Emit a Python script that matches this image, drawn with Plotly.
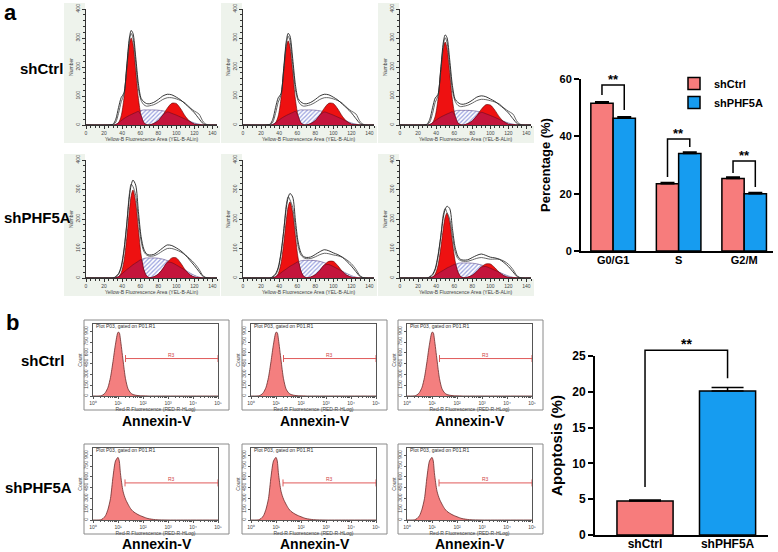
import numpy as np
import plotly.graph_objects as go

W, H = 778, 552
FONT = "Liberation Sans, Arial, sans-serif"

# ---------------- data: panel a, cell-cycle DNA histograms ----------------
HIST_X = [0, 25, 30, 33, 36, 39, 42, 45, 48, 50, 52, 55, 58, 61, 64, 67, 70,
          75, 80, 85, 90, 95, 100, 105, 110, 115, 120, 125, 130, 135, 145]
CTRL_G1 = [0, 0, 0, 1, 8, 32, 92, 189, 279, 300, 279, 189, 92, 32, 8, 1, 0,
           0, 0, 0, 0, 0, 0, 0, 0, 0, 0, 0, 0, 0, 0]
CTRL_S = [0, 0, 0, 2, 8, 15, 22, 28, 33, 36, 39, 43, 47, 50, 52, 52, 52,
          52, 51, 49, 45, 40, 34, 27, 20, 13, 7, 3, 0, 0, 0]
CTRL_G2 = [0, 0, 0, 0, 0, 0, 0, 0, 0, 0, 0, 0, 0, 0, 0, 0, 0,
           5, 15, 34, 58, 75, 74, 55, 30, 12, 3, 1, 0, 0, 0]
CTRL_OUT_A = [0, 0, 3, 20, 60, 95, 110, 200, 300, 326, 316, 235, 142, 92, 80, 74, 73,
              78, 88, 100, 106, 104, 96, 86, 72, 58, 42, 22, 4, 0, 0]
CTRL_OUT_B = [0, 0, 1, 10, 40, 80, 105, 195, 290, 316, 300, 215, 125, 85, 70, 65, 66,
              70, 78, 88, 94, 94, 90, 84, 75, 60, 48, 38, 10, 0, 0]
CTRL_G1_K = [1.0, 0.967, 0.953]
CTRL_S_K = [1.0, 1.0, 0.97]
CTRL_G2_K = [1.0, 1.0, 0.93]

PHF_G1 = [0, 0, 0, 1, 4, 18, 57, 133, 229, 279, 298, 257, 165, 78, 28, 7, 1,
          0, 0, 0, 0, 0, 0, 0, 0, 0, 0, 0, 0, 0, 0]
PHF_S = [0, 0, 0, 1, 5, 12, 20, 28, 35, 40, 45, 51, 57, 62, 66, 68, 68,
         68, 67, 64, 59, 52, 44, 35, 26, 17, 9, 3, 0, 0, 0]
PHF_G2 = [0, 0, 0, 0, 0, 0, 0, 0, 0, 0, 0, 0, 0, 0, 0, 0, 0,
          4, 13, 31, 53, 68, 68, 50, 27, 11, 3, 1, 0, 0, 0]
PHF_OUT_A = [0, 0, 0, 5, 15, 40, 95, 180, 275, 315, 332, 315, 225, 140, 98, 82, 78,
             80, 90, 102, 112, 110, 102, 92, 78, 60, 42, 22, 4, 0, 0]
PHF_OUT_B = [0, 0, 0, 4, 12, 35, 90, 178, 285, 318, 310, 280, 200, 125, 90, 78, 74,
             75, 82, 92, 100, 100, 95, 88, 78, 65, 50, 30, 6, 0, 0]
PHF_G1_K = [1.0, 0.866, 0.74]
PHF_S_K = [1.0, 0.88, 0.75]
PHF_G2_K = [1.0, 0.83, 0.70]

HIST_XTICKS = [0, 20, 40, 60, 80, 100, 120, 140]
HIST_YTICKS = [0, 100, 200, 300, 400]

# ---------------- data: panel b, Annexin-V histograms ----------------
ANX_X = [0.0, 0.2, 0.3, 0.4, 0.5, 0.6, 0.7, 0.8, 0.9, 1.0, 1.05, 1.1, 1.2, 1.3,
         1.4, 1.5, 1.6, 1.8, 2.0, 2.2, 2.5, 3.0, 4.0, 5.0]
ANX_CTRL = [0, 0, 2, 15, 50, 120, 260, 480, 720, 885, 880, 780, 500, 240,
            100, 45, 20, 6, 2, 0, 0, 0, 0, 0]
ANX_PHF = [0, 0, 2, 20, 60, 150, 300, 600, 820, 870, 820, 640, 400, 290,
           220, 160, 120, 75, 45, 20, 5, 0, 0, 0]
R3_Y = [520, 515]
R3_X0 = [1.3, 1.28]
R3_X1 = 5.0
ANX_YTICKS = [0, 150, 300, 450, 600, 750, 900]
ANX_XTICKS = [0, 1, 2, 3, 4, 5]
ANX_XTICKTEXT = ["10⁰", "10¹", "10²", "10³", "10⁴", "10⁵"]

# ---------------- data: bar charts ----------------
PHASES = ["G0/G1", "S", "G2/M"]
CTRL_PCT = [51.5, 23.5, 25.3]
CTRL_PCT_ERR = [0.6, 0.4, 0.5]
PHF_PCT = [46.3, 34.0, 20.0]
PHF_PCT_ERR = [0.5, 0.5, 0.4]
SIG_A_LEFT = [54.4, 25.8, 27.2]
SIG_A_TOP = [57.9, 39.1, 31.4]
SIG_A_RIGHT = [49.2, 36.3, 22.3]
PCT_TICKS = [0, 20, 40, 60]

GROUPS = ["shCtrl", "shPHF5A"]
APOP = [4.75, 20.1]
APOP_ERR = [0.15, 0.5]
SIG_B = [6.7, 25.8, 25.8, 21.9]
APOP_TICKS = [0, 5, 10, 15, 20, 25]

PINK = "#f77c7c"
BLUE = "#169cf0"
RED = "#ee1111"
CRIMSON = "#c4143c"

# ---------------- helpers ----------------
def xd(l, r):
    return [l / W, r / W]


def yd(t, b):
    return [1 - b / H, 1 - t / H]


def px(p):
    return p / W


def py(p):
    return 1 - p / H


fig = go.Figure()
layout = {}
shapes = []
annotations = []


def refs(n):
    return ("x" if n == 1 else f"x{n}"), ("y" if n == 1 else f"y{n}")


def set_axes(n, xcfg, ycfg):
    xr, yr = refs(n)
    xcfg = dict(xcfg, anchor=yr, fixedrange=True, showgrid=False, zeroline=False, automargin=False)
    ycfg = dict(ycfg, anchor=xr, fixedrange=True, showgrid=False, zeroline=False, automargin=False)
    layout["xaxis" if n == 1 else f"xaxis{n}"] = xcfg
    layout["yaxis" if n == 1 else f"yaxis{n}"] = ycfg


def text(x, y, s, size, bold=False, color="black", xanchor="center", yanchor="middle", angle=0):
    annotations.append(dict(
        xref="paper", yref="paper", x=px(x), y=py(y), text=s, showarrow=False,
        xanchor=xanchor, yanchor=yanchor, textangle=angle,
        font=dict(family=FONT, size=size, color=color, weight="bold" if bold else "normal")))


# ---------------- panel a histograms ----------------
A_COLS = [86, 243, 400]
A_W = 131
A_ROWS = [(9, 125), (160, 278)]
rows_a = [
    (CTRL_G1, CTRL_S, CTRL_G2, CTRL_OUT_A, CTRL_OUT_B, CTRL_G1_K, CTRL_S_K, CTRL_G2_K),
    (PHF_G1, PHF_S, PHF_G2, PHF_OUT_A, PHF_OUT_B, PHF_G1_K, PHF_S_K, PHF_G2_K),
]
n = 0
for r, (top, bot) in enumerate(A_ROWS):
    g1, s, g2, oa, ob, k1, ks, k2 = [np.array(v, dtype=float) for v in rows_a[r]]
    for c, left in enumerate(A_COLS):
        n += 1
        xr, yr = refs(n)
        G1 = g1 * k1[c]
        S = s * ks[c]
        G2 = g2 * k2[c]
        OA = oa + (k1[c] - 1) * g1 + (ks[c] - 1) * s + (k2[c] - 1) * g2
        OB = ob + (k1[c] - 1) * g1 + (ks[c] - 1) * s + (k2[c] - 1) * g2
        OV = np.minimum(S, G1 + G2)
        common = dict(x=HIST_X, xaxis=xr, yaxis=yr, mode="lines", showlegend=False,
                      hoverinfo="skip")
        fig.add_trace(go.Scatter(y=S, fill="tozeroy", fillcolor="white",
                                 fillpattern=dict(shape="/", fgcolor="#3444c0", bgcolor="white",
                                                  size=3, solidity=0.4),
                                 line=dict(color="#5a4a8a", width=0.6, shape="spline", smoothing=0.8),
                                 **common))
        fig.add_trace(go.Scatter(y=G1, fill="tozeroy", fillcolor=RED,
                                 line=dict(color="#5a0000", width=0.6, shape="spline", smoothing=0.8),
                                 **common))
        fig.add_trace(go.Scatter(y=G2, fill="tozeroy", fillcolor=RED,
                                 line=dict(color="#5a0000", width=0.6, shape="spline", smoothing=0.8),
                                 **common))
        fig.add_trace(go.Scatter(y=OV, fill="tozeroy", fillcolor=CRIMSON,
                                 line=dict(color="#6a0a20", width=0.6, shape="spline", smoothing=0.8),
                                 **common))
        fig.add_trace(go.Scatter(y=OB, line=dict(color="#555555", width=0.9, shape="spline", smoothing=0.8),
                                 **common))
        fig.add_trace(go.Scatter(y=OA, line=dict(color="#222222", width=0.9, shape="spline", smoothing=0.8),
                                 **common))
        tf = dict(family=FONT, size=5, color="#444")
        set_axes(n,
                 dict(domain=xd(left, left + A_W), range=[0, 145], showline=True, linecolor="#333",
                      linewidth=1, ticks="outside", ticklen=3, tickwidth=0.8, tickcolor="#333",
                      tickvals=HIST_XTICKS, tickfont=tf,
                      minor=dict(tickvals=list(range(0, 146, 5)), ticks="outside", ticklen=2,
                                 tickcolor="#333", tickwidth=0.6),
                      title=dict(text="Yellow-B Fluorescence Area (YEL-B-ALin)", font=tf, standoff=1)),
                 dict(domain=yd(top, bot), range=[0, 400], showline=True, linecolor="#333",
                      linewidth=1, ticks="outside", ticklen=3, tickwidth=0.8, tickcolor="#333",
                      tickvals=HIST_YTICKS, tickfont=tf, tickangle=-90,
                      minor=dict(tickvals=list(range(0, 401, 20)), ticks="outside", ticklen=2,
                                 tickcolor="#333", tickwidth=0.6),
                      title=dict(text="Number", font=tf, standoff=1)))
        # light tinted frame of the exported cytometer image
        shapes.append(dict(type="rect", xref="paper", yref="paper", layer="below",
                           x0=px(left - 22), x1=px(left - 1), y0=py(bot + 18), y1=py(top - 6),
                           fillcolor="#eef3ec", line=dict(width=0)))
        shapes.append(dict(type="rect", xref="paper", yref="paper", layer="below",
                           x0=px(left - 1), x1=px(left + A_W + 3), y0=py(bot + 18), y1=py(bot + 1),
                           fillcolor="#eef3ec", line=dict(width=0)))

# ---------------- panel b histograms ----------------
B_COLS = [84, 242, 398]
B_BOX_W = 145
B_TOPS = [320, 444]
B_LABEL_DY = [101, 100]
anx_rows = [ANX_CTRL, ANX_PHF]
minor_log = [k + np.log10(m) for k in range(5) for m in range(2, 10)]
for r, top in enumerate(B_TOPS):
    for c, left in enumerate(B_COLS):
        n += 1
        xr, yr = refs(n)
        fig.add_trace(go.Scatter(x=ANX_X, y=anx_rows[r], xaxis=xr, yaxis=yr, mode="lines",
                                 fill="tozeroy", fillcolor="#f47f7f",
                                 line=dict(color="#6a2a2a", width=0.8, shape="spline", smoothing=0.7),
                                 showlegend=False, hoverinfo="skip"))
        fig.add_trace(go.Scatter(x=[R3_X0[r], R3_X1], y=[R3_Y[r], R3_Y[r]], xaxis=xr, yaxis=yr,
                                 mode="lines+markers", line=dict(color="#e05a5a", width=1),
                                 marker=dict(symbol="line-ns", size=5,
                                             line=dict(color="#e05a5a", width=1)),
                                 showlegend=False, hoverinfo="skip", cliponaxis=False))
        annotations.append(dict(xref=xr, yref=yr, x=(R3_X0[r] + R3_X1) / 2, y=R3_Y[r], text="R3",
                                showarrow=False, yanchor="bottom", yshift=-1,
                                font=dict(family=FONT, size=5, color="#d04040")))
        tf = dict(family=FONT, size=5, color="#444")
        set_axes(n,
                 dict(domain=xd(left + 9, left + 134), range=[0, 5], showline=True, mirror=True,
                      linecolor="#555", linewidth=0.8, ticks="outside", ticklen=2, tickwidth=0.6,
                      tickcolor="#555", tickvals=ANX_XTICKS, ticktext=ANX_XTICKTEXT, tickfont=tf,
                      minor=dict(tickvals=minor_log, ticks="outside", ticklen=1,
                                 tickcolor="#555", tickwidth=0.5),
                      title=dict(text="Red-R Fluorescence (RED-R-HLog)", font=tf, standoff=0)),
                 dict(domain=yd(top + 4, top + 76), range=[0, 1000], showline=True, mirror=True,
                      linecolor="#555", linewidth=0.8, ticks="outside", ticklen=2, tickwidth=0.6,
                      tickcolor="#555", tickvals=ANX_YTICKS, tickfont=tf, tickangle=-90,
                      title=dict(text="Count", font=tf, standoff=0)))
        shapes.append(dict(type="rect", xref="paper", yref="paper",
                           x0=px(left), x1=px(left + B_BOX_W), y0=py(top + 90), y1=py(top),
                           line=dict(color="#8a8a8a", width=1)))
        annotations.append(dict(xref="paper", yref="paper", x=px(left + 10), y=py(top + 0.5),
                                text="Plot P03, gated on P01.R1", showarrow=False,
                                xanchor="left", yanchor="top",
                                font=dict(family=FONT, size=5, color="#333")))
        text(left + B_BOX_W / 2, top + B_LABEL_DY[r], "Annexin-V", 14, bold=True)

# ---------------- bar chart a ----------------
n += 1
na = n
xr, yr = refs(na)
fig.add_trace(go.Bar(x=[0, 1, 2], y=CTRL_PCT, width=0.34, offset=-0.34, name="shCtrl",
                     xaxis=xr, yaxis=yr, marker=dict(color=PINK, line=dict(color="black", width=1.5)),
                     error_y=dict(type="data", array=CTRL_PCT_ERR, arrayminus=[0, 0, 0],
                                  color="black", thickness=1.5, width=7),
                     hoverinfo="skip"))
fig.add_trace(go.Bar(x=[0, 1, 2], y=PHF_PCT, width=0.34, offset=0, name="shPHF5A",
                     xaxis=xr, yaxis=yr, marker=dict(color=BLUE, line=dict(color="black", width=1.5)),
                     error_y=dict(type="data", array=PHF_PCT_ERR, arrayminus=[0, 0, 0],
                                  color="black", thickness=1.5, width=7),
                     hoverinfo="skip"))
bx, by = [], []
for i in range(3):
    bx += [i - 0.17, i - 0.17, i + 0.17, i + 0.17, None]
    by += [SIG_A_LEFT[i], SIG_A_TOP[i], SIG_A_TOP[i], SIG_A_RIGHT[i], None]
    annotations.append(dict(xref=xr, yref=yr, x=i, y=SIG_A_TOP[i], text="<b>**</b>", showarrow=False,
                            yanchor="bottom", yshift=-4,
                            font=dict(family=FONT, size=13, color="black")))
fig.add_trace(go.Scatter(x=bx, y=by, xaxis=xr, yaxis=yr, mode="lines",
                         line=dict(color="black", width=1.5), showlegend=False, hoverinfo="skip"))
bold11 = dict(family=FONT, size=11, color="black", weight="bold")
set_axes(na,
         dict(domain=xd(581, 773), range=[-0.49, 2.44], showline=True, linecolor="black", linewidth=2,
              ticks="", tickvals=[0, 1, 2], ticktext=PHASES, tickfont=bold11, ticklabelstandoff=-2),
         dict(domain=yd(79, 251), range=[0, 60], showline=True, linecolor="black", linewidth=2,
              ticks="outside", ticklen=5, tickwidth=2, tickcolor="black", tickvals=PCT_TICKS,
              tickfont=bold11,
              title=dict(text="Percentage (%)", font=dict(family=FONT, size=13, color="black",
                                                          weight="bold"), standoff=6)))

# ---------------- bar chart b ----------------
n += 1
nb = n
xr, yr = refs(nb)
fig.add_trace(go.Bar(x=[0, 1], y=APOP, width=0.68, xaxis=xr, yaxis=yr, showlegend=False,
                     marker=dict(color=[PINK, BLUE], line=dict(color="black", width=1.5)),
                     error_y=dict(type="data", array=APOP_ERR, arrayminus=[0, 0],
                                  color="black", thickness=1.5, width=16),
                     hoverinfo="skip"))
bold12 = dict(family=FONT, size=12, color="black", weight="bold")
set_axes(nb,
         dict(domain=xd(595, 768), range=[-0.606, 1.49], showline=True, linecolor="black", linewidth=2,
              ticks="", tickvals=[0, 1], ticktext=GROUPS, tickfont=bold12, ticklabelstandoff=-3),
         dict(domain=yd(356, 535), range=[0, 25], showline=True, linecolor="black", linewidth=2,
              ticks="outside", ticklen=5, tickwidth=2, tickcolor="black", tickvals=APOP_TICKS,
              tickfont=bold12,
              title=dict(text="Apoptosis (%)", font=dict(family=FONT, size=15, color="black",
                                                         weight="bold"), standoff=6)))
# overlay axes (same scale, taller domain) for the significance bracket above the axis top
n += 1
xr2, yr2 = refs(n)
set_axes(n,
         dict(domain=xd(595, 768), range=[-0.606, 1.49], visible=False),
         dict(domain=yd(330, 535), range=[0, 25 * (535 - 330) / (535 - 356)], visible=False))
fig.add_trace(go.Scatter(x=[0, 0, 1, 1], y=SIG_B, xaxis=xr2, yaxis=yr2, mode="lines",
                         line=dict(color="black", width=1.5), showlegend=False, hoverinfo="skip"))
annotations.append(dict(xref=xr2, yref=yr2, x=0.5, y=SIG_B[1], text="<b>**</b>", showarrow=False,
                        yanchor="bottom", yshift=-4, font=dict(family=FONT, size=14, color="black")))

# ---------------- labels ----------------
text(10, 13, "a", 22, bold=True)
text(12, 322, "b", 22, bold=True)
text(41, 68, "shCtrl", 15, bold=True)
text(37, 217, "shPHF5A", 15, bold=True)
text(42, 360, "shCtrl", 15, bold=True)
text(38, 487, "shPHF5A", 15, bold=True)

fig.update_layout(
    width=W, height=H, margin=dict(l=0, r=0, t=0, b=0, autoexpand=False),
    paper_bgcolor="white", plot_bgcolor="rgba(0,0,0,0)",
    barmode="overlay",
    font=dict(family=FONT, color="black"),
    showlegend=True,
    legend=dict(x=px(674), y=py(69), xanchor="left", yanchor="top", bgcolor="rgba(0,0,0,0)",
                font=dict(family=FONT, size=11, color="black", weight="bold"),
                itemwidth=30, tracegroupgap=0),
    shapes=shapes, annotations=annotations,
    **layout,
)

fig.write_html("out.html", config={"displayModeBar": False},
               post_script="document.body.style.margin='0px';document.body.style.overflow='hidden';")
